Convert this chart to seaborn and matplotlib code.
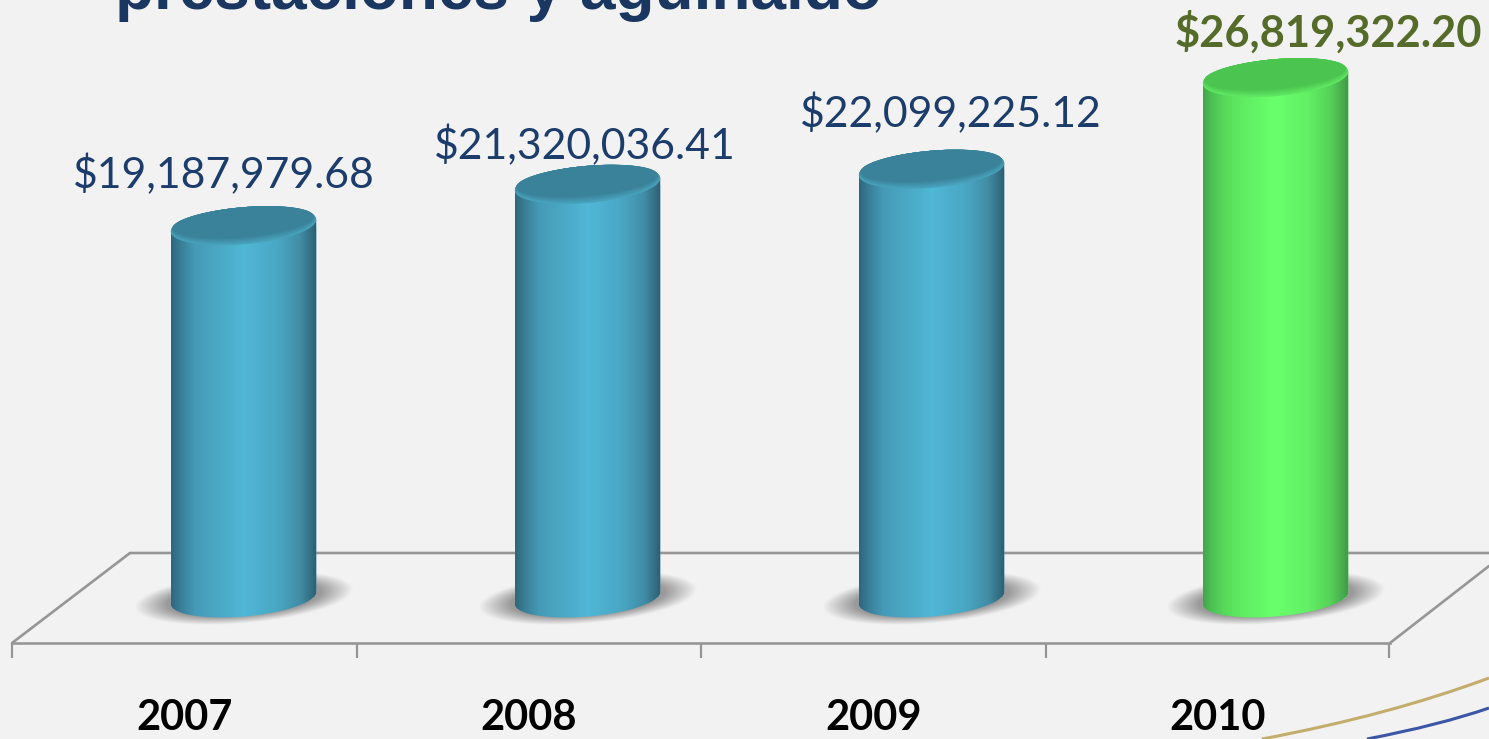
import numpy as np
import pandas as pd
import matplotlib
matplotlib.use('Agg')
import matplotlib.pyplot as plt
import seaborn as sns
from matplotlib.colors import LinearSegmentedColormap, to_rgb
from matplotlib.patches import PathPatch, Polygon
from matplotlib.path import Path
from matplotlib.transforms import Affine2D

# Data
years = ['2007', '2008', '2009', '2010']
amounts = [19187979.68, 21320036.41, 22099225.12, 26819322.20]
amount_labels = ['$19,187,979.68', '$21,320,036.41', '$22,099,225.12', '$26,819,322.20']
title_text = 'prestaciones y aguinaldo'

# Layout (pixels)
W, H = 1489, 739
BG = '#f2f2f2'
x0_px, cat_px = 243.5, 344.0
zero_px, val_px = 598.0, 19.40e-6
bar_px = 146
label_dx = [-20, -3, 19, 53]
label_y = [175, 146, 114, 32]

sns.set_theme(style='white')
plt.rcParams['font.family'] = ['Lato', 'DejaVu Sans']
# tick labels pick this up, the value labels set their own weight
plt.rcParams['font.weight'] = 'bold'

fig = plt.figure(figsize=(W / 100, H / 100), dpi=100, facecolor=BG)
ax = fig.add_axes([0, 0, 1, 1], facecolor=BG)

df = pd.DataFrame({'year': years, 'amount': amounts})
sns.barplot(data=df, x='year', y='amount', hue='year', legend=False, ax=ax,
            palette=['#50b5d5', '#50b5d5', '#50b5d5', '#66ff66'],
            width=bar_px / cat_px, saturation=1, zorder=3)

xlim = (-x0_px / cat_px, (W - x0_px) / cat_px)
ylim = ((zero_px - H) / val_px, zero_px / val_px)

# pixel coords, y going down, for the decorations
px = Affine2D().scale(1 / W, -1 / H).translate(0, 1) + fig.transFigure


def to_x(p):
    return (p - x0_px) / cat_px


def to_y(p):
    return (zero_px - p) / val_px


def ellipse(cx, val, rx, ry, t):
    # tilted ellipse around (category, value), rising to the right
    a = np.radians(5.0)
    dx = rx * np.cos(t) * np.cos(a) - ry * np.sin(t) * np.sin(a)
    dy = rx * np.cos(t) * np.sin(a) + ry * np.sin(t) * np.cos(a)
    return np.column_stack([cx + dx / cat_px, val + dy / val_px])


def blend(c1, c2, f):
    c1, c2 = np.array(to_rgb(c1)), np.array(to_rgb(c2))
    return tuple(c1 + (c2 - c1) * f)


t0 = -np.arctan(18.5 / 73 * np.tan(np.radians(5.0)))
blue_body = LinearSegmentedColormap.from_list('b', [(0, '#2f687d'), (0.05, '#377a91'), (0.16, '#459ab6'),
                                                    (0.3, '#4aa6c2'), (0.5, '#50b7d7'), (0.72, '#4aa8c4'),
                                                    (0.88, '#428fa9'), (0.96, '#356f85'), (1, '#2c5f72')])
green_body = LinearSegmentedColormap.from_list('g', [(0, '#43a64c'), (0.05, '#4cbf53'), (0.16, '#59dc5c'),
                                                     (0.3, '#61f064'), (0.5, '#69ff6c'), (0.72, '#62f065'),
                                                     (0.88, '#55d058'), (0.96, '#47ad4e'), (1, '#3d9a46')])
faces = ['#3a8299', '#3a8299', '#3a8299', '#4cc450']
rims = ['#48a2bc', '#48a2bc', '#48a2bc', '#5fe862']
cmaps = [blue_body, blue_body, blue_body, green_body]

# soft shadow image, in pixel offsets from the bar foot
gx, gy = np.meshgrid(np.arange(-115, 116), np.arange(-35, 36))
a = np.radians(5)
u = gx * np.cos(a) + gy * np.sin(a)
v = -gx * np.sin(a) + gy * np.cos(a)
r = np.sqrt((u / 108) ** 2 + (v / 25) ** 2)
shadow = np.zeros(gx.shape + (4,))
shadow[..., :3] = to_rgb('#9a9a9a')
shadow[..., 3] = np.clip((1.02 - r) / 0.3, 0, 1)

for i, bar in enumerate(ax.patches):
    cx = bar.get_x() + bar.get_width() / 2
    val = bar.get_height()
    rx, ry = bar_px / 2, 18.5

    top = ellipse(cx, val, rx, ry, np.linspace(t0, t0 + np.pi, 60))
    foot = ellipse(cx, 0, rx, ry, np.linspace(t0 + np.pi, t0 + 2 * np.pi, 60))
    outline = Path(np.vstack([foot, top, foot[:1]]))

    ax.imshow(shadow, origin='lower', aspect='auto', zorder=2, interpolation='bilinear',
              extent=(cx - 115 / cat_px, cx + 115 / cat_px, -35 / val_px, 35 / val_px))

    bar.set_clip_path(outline, ax.transData)
    body = ax.imshow(np.linspace(0, 1, 200)[None, :], cmap=cmaps[i], origin='lower', aspect='auto', zorder=4,
                     extent=(cx - bar_px / 2 / cat_px, cx + bar_px / 2 / cat_px, -30 / val_px, val + 30 / val_px))
    body.set_clip_path(outline, ax.transData)

    # top face with a small bevel on the front edge
    for k in range(7):
        f = k / 6
        pts = ellipse(cx - f * 0.5 / cat_px, val + f * 3.5 / val_px, rx * (1 - 0.03 * f), ry * (1 - 0.19 * f),
                      np.linspace(0, 2 * np.pi, 100))
        ax.add_patch(Polygon(pts, closed=True, facecolor=blend(rims[i], faces[i], f), edgecolor='none', zorder=5 + k * 0.01))

    ax.text(cx + label_dx[i] / cat_px, to_y(label_y[i]), amount_labels[i], ha='center', va='center', zorder=8,
            fontsize=31.2 if i == 3 else 30.8, color='#556b2a' if i == 3 else '#1c3d6b',
            fontweight='bold' if i == 3 else 'normal')

ax.set_xlim(xlim)
ax.set_ylim(ylim)

# front edge of the floor is the category axis
edges = [12, 357, 701, 1046, 1389]
mids = [184.5, 529, 873.5, 1217.5]
ax.tick_params(axis='x', which='major', length=11, width=1.6, color='#969696', bottom=True)
ax.tick_params(axis='x', which='minor', length=0, pad=40, labelsize=30, labelcolor='black')
ax.set_xticks([to_x(p) for p in edges], labels=[''] * 5)
ax.set_xticks([to_x(p) for p in mids], labels=years, minor=True)
ax.set_yticks([])
ax.set_xlabel('')
ax.set_ylabel('')
for side in ['top', 'left', 'right']:
    ax.spines[side].set_visible(False)
ax.spines['bottom'].set_position(('data', to_y(643)))
ax.spines['bottom'].set_bounds(to_x(12), to_x(1390))
ax.spines['bottom'].set_color('#969696')
ax.spines['bottom'].set_linewidth(1.9)
ax.spines['bottom'].set_zorder(1)

# rest of the floor
floor = dict(color='#969696', lw=1.9, transform=px, zorder=1, clip_on=False)
ax.plot([12, 130, 1489], [643, 553, 553], **floor)
ax.plot([1390, 1489], [643, 566], **floor)

# slide decoration at the corner
for pts, col in [([(1262, 739), (1390, 715), (1489, 678)], '#c2ad6c'),
                 ([(1367, 739), (1440, 725), (1489, 708)], '#3a56a5')]:
    ax.add_patch(PathPatch(Path(pts, [Path.MOVETO, Path.CURVE3, Path.CURVE3]), facecolor='none',
                           edgecolor=col, lw=2.2, transform=px, zorder=6))

fig.text(115, 9, title_text, transform=px, family='Liberation Sans', fontweight='bold',
         fontsize=46, color='#1a3762', ha='left', va='baseline')

fig.savefig('out.png', dpi=100, facecolor=BG)
